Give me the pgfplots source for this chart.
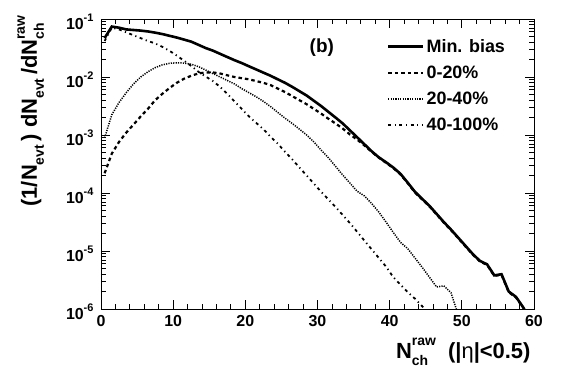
\documentclass[border=0pt]{standalone}
\usepackage{fontspec}
\setmainfont{Liberation Sans}
\usepackage{pgfplots}
\pgfplotsset{compat=1.18}
\newcommand{\fs}[1]{\fontsize{#1}{#1}\selectfont}
\newcommand{\ex}[1]{\raisebox{0.5em}{\fs{11}#1}}
\newcommand{\supsub}[2]{\rlap{\raisebox{-0.32em}{\fs{14}#2}}\raisebox{0.55em}{\fs{14}#1}}
\newcommand{\subs}[1]{\raisebox{-0.32em}{\fs{14}#1}}
\begin{document}
\begin{tikzpicture}
\path[use as bounding box] (-101bp,-68bp) rectangle (463bp,309bp);
\begin{axis}[
  at={(0,0)}, anchor=south west,
  scale only axis, width=433bp, height=290bp,
  ymode=log, xmin=0, xmax=60, ymin=1e-6, ymax=1e-1,
  axis line style={line width=0.9bp},
  tick style={line width=0.8bp, black},
  tick align=inside, tick pos=both,
  xticklabel pos=lower, yticklabel pos=left,
  major tick length=9bp, minor tick length=5bp,
  xtick={0,10,20,30,40,50,60},
  xticklabels={0,10,20,30,40,50,60},
  minor x tick num=4,
  ytick={1e-6,1e-5,1e-4,1e-3,1e-2,1e-1},
  yticklabels={10\ex{-6},10\ex{-5},10\ex{-4},10\ex{-3},10\ex{-2},10\ex{-1}},
  minor ytick={2e-6,3e-6,4e-6,5e-6,6e-6,7e-6,8e-6,9e-6,2e-5,3e-5,4e-5,5e-5,6e-5,7e-5,8e-5,9e-5,2e-4,3e-4,4e-4,5e-4,6e-4,7e-4,8e-4,9e-4,2e-3,3e-3,4e-3,5e-3,6e-3,7e-3,8e-3,9e-3,2e-2,3e-2,4e-2,5e-2,6e-2,7e-2,8e-2,9e-2},
  ticklabel style={font=\fs{16}\bfseries},
  xticklabel style={yshift=-3bp},
  yticklabel style={yshift=-3bp, xshift=-4bp},
  xlabel={N\supsub{raw}{ch}\ \ (|{\mdseries η}|<0.5)},
  xlabel style={font=\fs{22}\bfseries, at={(axis description cs:1,-0.169)}, anchor=base east},
  ylabel={(1/N\subs{evt}\,) dN\subs{evt}\,/dN\supsub{raw}{ch}},
  ylabel style={font=\fs{22}\bfseries, at={(axis description cs:-0.148,1.024)}, anchor=base east, rotate=0},
  legend style={at={(axis description cs:0.66,0.937)}, anchor=north west, draw=none, fill=none,
    font=\fs{18}\bfseries, row sep=8bp, inner sep=0pt, nodes={inner sep=2bp}},
  legend cell align=left,
  legend image code/.code={\draw[#1] (0bp,0bp) -- (35bp,0bp);},
  clip=true,
]
\addplot[black, line width=2.6bp, solid] coordinates {
(0.5,4.68e-2)(1.5,7.41e-2)(2.5,7.08e-2)(3.5,6.61e-2)(4.5,6.46e-2)(5.5,6.31e-2)(6.5,6.10e-2)(7.5,5.82e-2)(8.5,5.50e-2)(9.5,5.13e-2)(10.5,4.79e-2)(11.5,4.42e-2)(12.5,4.07e-2)(13.5,3.59e-2)(14.5,3.16e-2)(15.5,2.85e-2)(16.5,2.51e-2)(17.5,2.21e-2)(18.5,1.95e-2)(19.5,1.74e-2)(20.5,1.53e-2)(21.5,1.35e-2)(22.5,1.19e-2)(23.5,1.05e-2)(24.5,9.12e-3)(25.5,7.94e-3)(26.5,6.76e-3)(27.5,5.69e-3)(28.5,4.79e-3)(29.5,3.89e-3)(30.5,3.16e-3)(31.5,2.51e-3)(32.5,2.00e-3)(33.5,1.58e-3)(34.5,1.20e-3)(35.5,9.12e-4)(36.5,6.92e-4)(37.5,5.25e-4)(38.5,4.12e-4)(39.5,3.39e-4)(40.5,2.75e-4)(41.5,2.14e-4)(42.5,1.51e-4)(43.5,1.05e-4)(44.5,7.94e-5)(45.5,6.03e-5)(46.5,4.37e-5)(47.5,3.16e-5)(48.5,2.34e-5)(49.5,1.70e-5)(50.5,1.23e-5)(51.5,8.91e-6)(52.5,6.76e-6)(53.5,5.89e-6)(54.5,3.80e-6)(55.5,3.98e-6)(56.5,2.00e-6)(57.5,1.62e-6)(58.5,1.07e-6)(59.5,6.3e-7)
};
\addlegendentry{Min. bias}
\addplot[black, line width=2.2bp, dash pattern=on 3.5bp off 3bp] coordinates {
(0.5,2.19e-4)(1.5,4.79e-4)(2.5,7.59e-4)(3.5,1.10e-3)(4.5,1.51e-3)(5.5,2.09e-3)(6.5,2.82e-3)(7.5,3.98e-3)(8.5,5.13e-3)(9.5,6.46e-3)(10.5,7.94e-3)(11.5,9.33e-3)(12.5,1.05e-2)(13.5,1.15e-2)(14.5,1.20e-2)(15.5,1.20e-2)(16.5,1.15e-2)(17.5,1.07e-2)(18.5,1.00e-2)(19.5,9.55e-3)(20.5,9.12e-3)(21.5,8.51e-3)(22.5,7.94e-3)(23.5,7.24e-3)(24.5,6.31e-3)(25.5,5.50e-3)(26.5,4.68e-3)(27.5,3.98e-3)(28.5,3.39e-3)(29.5,2.82e-3)(30.5,2.34e-3)(31.5,1.91e-3)(32.5,1.58e-3)(33.5,1.29e-3)(34.5,1.02e-3)(35.5,8.32e-4)(36.5,6.61e-4)(37.5,5.13e-4)(38.5,4.07e-4)(39.5,3.31e-4)(40.5,2.69e-4)(41.5,2.09e-4)(42.5,1.48e-4)(43.5,1.02e-4)(44.5,7.76e-5)(45.5,5.89e-5)(46.5,4.27e-5)(47.5,3.09e-5)(48.5,2.29e-5)(49.5,1.66e-5)(50.5,1.20e-5)(51.5,8.71e-6)(52.5,6.61e-6)(53.5,5.75e-6)(54.5,3.72e-6)(55.5,3.89e-6)(56.5,1.95e-6)(57.5,1.58e-6)(58.5,1.05e-6)
};
\addlegendentry{0-20\%}
\addplot[black, line width=1.5bp, dash pattern=on 1.2bp off 1.2bp] coordinates {
(0.5,8.91e-4)(1.5,2.24e-3)(2.5,3.63e-3)(3.5,5.37e-3)(4.5,7.59e-3)(5.5,1.00e-2)(6.5,1.23e-2)(7.5,1.45e-2)(8.5,1.62e-2)(9.5,1.72e-2)(10.5,1.76e-2)(11.5,1.74e-2)(12.5,1.66e-2)(13.5,1.51e-2)(14.5,1.32e-2)(15.5,1.15e-2)(16.5,1.00e-2)(17.5,8.71e-3)(18.5,7.59e-3)(19.5,6.31e-3)(20.5,5.37e-3)(21.5,4.57e-3)(22.5,3.80e-3)(23.5,3.09e-3)(24.5,2.45e-3)(25.5,1.95e-3)(26.5,1.58e-3)(27.5,1.26e-3)(28.5,1.00e-3)(29.5,7.59e-4)(30.5,5.50e-4)(31.5,4.07e-4)(32.5,2.88e-4)(33.5,2.04e-4)(34.5,1.48e-4)(35.5,1.07e-4)(36.5,8.91e-5)(37.5,6.61e-5)(38.5,4.68e-5)(39.5,3.16e-5)(40.5,2.09e-5)(41.5,1.41e-5)(42.5,1.10e-5)(43.5,7.59e-6)(44.5,5.25e-6)(45.5,3.55e-6)(46.5,2.40e-6)(47.5,2.51e-6)(48.5,1.91e-6)(49.5,7.9e-7)
};
\addlegendentry{20-40\%}
\addplot[black, line width=1.8bp, dash pattern=on 3bp off 3.5bp on 1.2bp off 3.5bp] coordinates {
(0.5,4.17e-2)(1.5,7.08e-2)(2.5,6.61e-2)(3.5,5.89e-2)(4.5,5.25e-2)(5.5,4.68e-2)(6.5,4.17e-2)(7.5,3.80e-2)(8.5,3.31e-2)(9.5,2.82e-2)(10.5,2.34e-2)(11.5,1.91e-2)(12.5,1.55e-2)(13.5,1.23e-2)(14.5,1.02e-2)(15.5,8.51e-3)(16.5,6.76e-3)(17.5,5.13e-3)(18.5,3.80e-3)(19.5,2.82e-3)(20.5,2.09e-3)(21.5,1.62e-3)(22.5,1.26e-3)(23.5,9.33e-4)(24.5,7.08e-4)(25.5,5.13e-4)(26.5,3.80e-4)(27.5,2.75e-4)(28.5,2.00e-4)(29.5,1.45e-4)(30.5,1.05e-4)(31.5,7.76e-5)(32.5,5.75e-5)(33.5,4.17e-5)(34.5,3.02e-5)(35.5,2.14e-5)(36.5,1.51e-5)(37.5,1.07e-5)(38.5,7.59e-6)(39.5,5.37e-6)(40.5,3.55e-6)(41.5,2.63e-6)(42.5,1.95e-6)(43.5,1.51e-6)(44.5,1.12e-6)(45.5,7.9e-7)
};
\addlegendentry{40-100\%}
\node[font=\fs{19}\bfseries, anchor=center] at (axis description cs:0.51,0.903) {(b)};
\end{axis}
\end{tikzpicture}
\end{document}
